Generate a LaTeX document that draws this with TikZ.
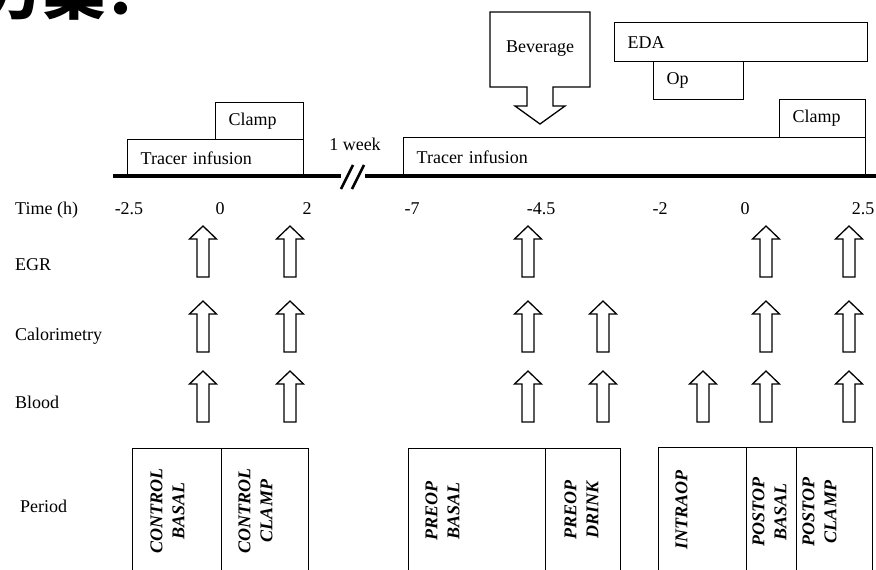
\documentclass[tikz,border=0pt]{standalone}
\usepackage{fontspec}
\setmainfont{Liberation Serif}
\newfontfamily\cjk{Noto Sans CJK SC}
\begin{document}
\begin{tikzpicture}[x=1pt,y=-1pt,
  every node/.style={font=\fontsize{18}{22}\selectfont, inner sep=0pt},
  frame/.style={draw, line width=1.3pt},
  labelbox/.style={frame, anchor=north west, inner xsep=13pt, inner ysep=0pt, align=left},
  cell/.style={frame, anchor=north west, minimum height=150pt},
  celltext/.style={rotate=90, align=center, font=\fontsize{18}{22}\selectfont\bfseries\itshape},
  tick/.style={anchor=base},
  rowname/.style={anchor=base west},
  axis/.style={line width=3.2pt},
  upmark/.pic={\draw[frame] (-6,51) -- (-6,13) -- (-13.5,13) -- (0,0) -- (13.5,13) -- (6,13) -- (6,51) -- cycle;}
]
\useasboundingbox (0,0) rectangle (876,570);
\clip (0,0) rectangle (876,570);

% heading
\node[anchor=base west, font=\cjk\bfseries\fontsize{62}{62}\selectfont] (title) at (-19,14) {方案：};

% timeline with the one-week break
\coordinate (axL0) at (113,176);
\coordinate (axL1) at (341,176);
\coordinate (axR0) at (365,176);
\coordinate (axR1) at (880,176);
\draw[axis] (axL0) -- (axL1);
\draw[axis] (axR0) -- (axR1);
\coordinate (s1a) at (341,189); \coordinate (s1b) at (353,165);
\coordinate (s2a) at (352,189); \coordinate (s2b) at (364,165);
\draw[line width=2.6pt] (s1a) -- (s1b);
\draw[line width=2.6pt] (s2a) -- (s2b);
\node[anchor=base] (week) at (355,150) {1 week};

% control day
\node[labelbox, text width=150pt, minimum height=37pt] (trL) at (127,139) {Tracer infusion};
\node[labelbox, text width=62pt, minimum height=37pt] (clL) at (215,102) {Clamp};

% operation day
\node[labelbox, text width=436pt, minimum height=39pt] (trR) at (403,137) {Tracer infusion};
\node[labelbox, text width=60pt, minimum height=38pt] (clR) at (779,99) {Clamp};
\node[labelbox, text width=227pt, minimum height=39pt] (eda) at (614,22) {EDA};
\node[labelbox, text width=64pt, minimum height=38pt] (op) at (653,61) {Op};

% beverage block arrow
\draw[frame] (490,12) -- (590,12) -- (590,87) -- (553,87) -- (553,106) -- (565,106)
  -- (540,124) -- (515,106) -- (527,106) -- (527,87) -- (490,87) -- cycle;
\node (bev) at (540,49) {Beverage};

% time axis labels
\node[rowname] (time) at (15,214) {Time (h)};
\node[tick] (t1) at (129,214) {-2.5};
\node[tick] (t2) at (220,214) {0};
\node[tick] (t3) at (307,214) {2};
\node[tick] (t4) at (412,214) {-7};
\node[tick] (t5) at (541,214) {-4.5};
\node[tick] (t6) at (660,214) {-2};
\node[tick] (t7) at (745,214) {0};
\node[tick] (t8) at (863,214) {2.5};

% measurement rows
\node[rowname] (egr) at (15,270) {EGR};
\node[rowname] (cal) at (15,340) {Calorimetry};
\node[rowname] (blood) at (15,408) {Blood};
\node[rowname] (period) at (20,512) {Period};

\foreach \x in {203,290,528,766,849} \pic at (\x,226) {upmark};
\foreach \x in {203,290,528,603,766,849} \pic at (\x,301) {upmark};
\foreach \x in {203,290,528,603,703,766,849} \pic at (\x,371) {upmark};

% study periods
\node[cell, minimum width=89pt] (cb) at (132,448) {};
\node[cell, minimum width=87pt] (cc) at (221,448) {};
\node[cell, minimum width=137pt] (pb) at (408,448) {};
\node[cell, minimum width=75pt] (pd) at (545,448) {};
\node[cell, minimum width=88pt] (io) at (658,447) {};
\node[cell, minimum width=50pt] (pob) at (746,447) {};
\node[cell, minimum width=76pt] (poc) at (796,447) {};

\node[celltext] (cbt) at (167.5,511) {CONTROL\\BASAL};
\node[celltext] (cct) at (255.5,511) {CONTROL\\CLAMP};
\node[celltext] (pbt) at (442.5,511) {PREOP\\BASAL};
\node[celltext] (pdt) at (581.5,510) {PREOP\\DRINK};
\node[celltext] (iot) at (681.5,510) {INTRAOP};
\node[celltext] (pobt) at (769.5,512) {POSTOP\\BASAL};
\node[celltext] (poct) at (819.5,512) {POSTOP\\CLAMP};
\end{tikzpicture}
\end{document}
